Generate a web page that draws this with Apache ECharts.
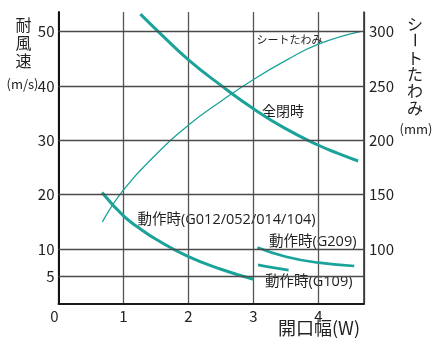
<!DOCTYPE html>
<html><head><meta charset="utf-8">
<script src="https://cdn.jsdelivr.net/npm/echarts@6/dist/echarts.min.js"></script>
<style>html,body{margin:0;padding:0;background:#fff}#c{width:432px;height:338px}</style>
</head><body><div id="c"></div>
<script>
// tick labels
const xTicks = [0, 1, 2, 3, 4];
const leftTicks = [5, 10, 20, 30, 40, 50];
const rightTicks = [100, 150, 200, 250, 300];
// シートたわみ (mm, right axis)
const sheetX = [0.675, 1.0, 1.5, 2.0, 2.5, 3.0, 3.5, 4.0, 4.64];
const sheetY = [125, 154.5, 187, 214, 236, 256, 273.5, 288.5, 300];
// 全閉時 (m/s)
const closedX = [1.26, 1.535, 2.0, 2.5, 3.0, 3.5, 4.0, 4.3, 4.61];
const closedY = [53.2, 50, 44.8, 40.1, 35.8, 32.1, 29.1, 27.6, 26.2];
// 動作時(G012/052/014/104)
const opAX = [0.67, 1.0, 1.25, 1.5, 2.0, 2.5, 3.0];
const opAY = [20.4, 16.1, 13.8, 11.8, 8.6, 6.3, 4.45];
// 動作時(G209)
const g209X = [3.06, 3.5, 4.0, 4.55];
const g209Y = [10.3, 8.6, 7.5, 6.9];
// 動作時(G109)
const g109X = [3.07, 3.3, 3.54];
const g109Y = [7.1, 6.6, 6.15];

const chart = echarts.init(document.getElementById('c'), null, {renderer: 'canvas'});
const teal = '#1ba39a';
const F = '"Noto Sans CJK JP","Noto Sans",sans-serif';
const FL = '"Open Sans","Noto Sans CJK JP",sans-serif';
const yMax = 53.6;
const pairs = (xs, ys) => xs.map((x, i) => [x, ys[i]]);
const lbl = {fontFamily: F, fontSize: 15, color: '#222'};

function txt(text, x, y, size, align, valign, opts) {
  opts = opts || {};
  const style = {text: text, x: 0, y: 0, fill: '#222', fontFamily: opts.font || F, fontSize: size,
    align: align, verticalAlign: valign, textAlign: align, textVerticalAlign: valign};
  if (opts.lineHeight) style.lineHeight = opts.lineHeight;
  const el = {type: 'text', x: x, y: y, silent: true, style: style};
  if (opts.rotation) el.rotation = opts.rotation;
  return el;
}

const option = {
  animation: false,
  grid: {left: 58.5, right: 68, top: 12, bottom: 34.5, containLabel: false, outerBoundsMode: 'none'},
  xAxis: {
    type: 'value', min: 0, max: 4.7, interval: 1,
    axisLine: {show: true, onZero: false, lineStyle: {color: '#1a1a1a', width: 2}},
    axisTick: {show: false},
    splitLine: {show: true, lineStyle: {color: '#555', width: 1.3}},
    axisLabel: Object.assign({}, lbl, {margin: 5, showMaxLabel: false, alignMinLabel: 'right',
      formatter: v => xTicks.includes(v) ? String(v) : ''})
  },
  yAxis: [{
    type: 'value', min: 0, max: yMax, interval: 5, position: 'left',
    axisLine: {show: true, onZero: false, lineStyle: {color: '#111', width: 2}},
    axisTick: {show: false}, splitLine: {show: false},
    axisLabel: Object.assign({}, lbl, {margin: 4, showMaxLabel: false,
      formatter: v => leftTicks.includes(v) ? String(v) : ''})
  }, {
    type: 'value', min: 50, max: 50 + 5 * yMax, interval: 50, position: 'right',
    axisLine: {show: true, onZero: false, lineStyle: {color: '#333', width: 1.6}},
    axisTick: {show: false}, splitLine: {show: false},
    axisLabel: Object.assign({}, lbl, {margin: 5, showMaxLabel: false,
      formatter: v => rightTicks.includes(v) ? String(v) : ''})
  }],
  series: [
    {type: 'line', yAxisIndex: 0, z: 1, silent: true, data: [[0, 0]], showSymbol: false,
      lineStyle: {opacity: 0},
      markLine: {silent: true, symbol: ['none', 'none'], label: {show: false},
        lineStyle: {color: '#4a4a4a', width: 1.3, type: 'solid'},
        data: leftTicks.map(v => ({yAxis: v}))}},
    {name: 'シートたわみ', type: 'line', yAxisIndex: 1, smooth: 0.5, showSymbol: false, z: 3,
      data: pairs(sheetX, sheetY), lineStyle: {color: teal, width: 1.3}},
    {name: '全閉時', type: 'line', yAxisIndex: 0, smooth: 0.5, showSymbol: false, z: 3,
      data: pairs(closedX, closedY), lineStyle: {color: teal, width: 3}},
    {name: '動作時(G012/052/014/104)', type: 'line', yAxisIndex: 0, smooth: 0.5, showSymbol: false, z: 3,
      data: pairs(opAX, opAY), lineStyle: {color: teal, width: 3}},
    {name: '動作時(G209)', type: 'line', yAxisIndex: 0, smooth: 0.5, showSymbol: false, z: 3,
      data: pairs(g209X, g209Y), lineStyle: {color: teal, width: 2.7}},
    {name: '動作時(G109)', type: 'line', yAxisIndex: 0, smooth: 0.5, showSymbol: false, z: 3,
      data: pairs(g109X, g109Y), lineStyle: {color: teal, width: 2.7}}
  ],
  graphic: [
    txt('耐\n風\n速', 23.5, 15.5, 16, 'center', 'top', {lineHeight: 18}),
    txt('(m/s)', 22.5, 84, 13, 'center', 'middle'),
    txt('シ', 415, 23.5, 16, 'center', 'middle'),
    txt('ー', 415, 40, 16, 'center', 'middle', {rotation: -Math.PI / 2}),
    txt('ト\nた\nわ\nみ', 415, 49.2, 16, 'center', 'top', {lineHeight: 16.7}),
    txt('(mm)', 416, 129, 13, 'center', 'middle'),
    txt('開口幅(W)', 278, 328, 18, 'left', 'middle'),
    txt('シートたわみ', 256.5, 40, 11, 'left', 'middle'),
    txt('全閉時', 262, 111, 14, 'left', 'middle'),
    txt('動作時(G012/052/014/104)', 137.5, 220, 14.5, 'left', 'middle', {font: FL}),
    txt('動作時(G209)', 269, 242, 14.5, 'left', 'middle', {font: FL}),
    txt('動作時(G109)', 265, 282, 14.5, 'left', 'middle', {font: FL})
  ]
};
chart.setOption(option);
</script>
</body></html>
